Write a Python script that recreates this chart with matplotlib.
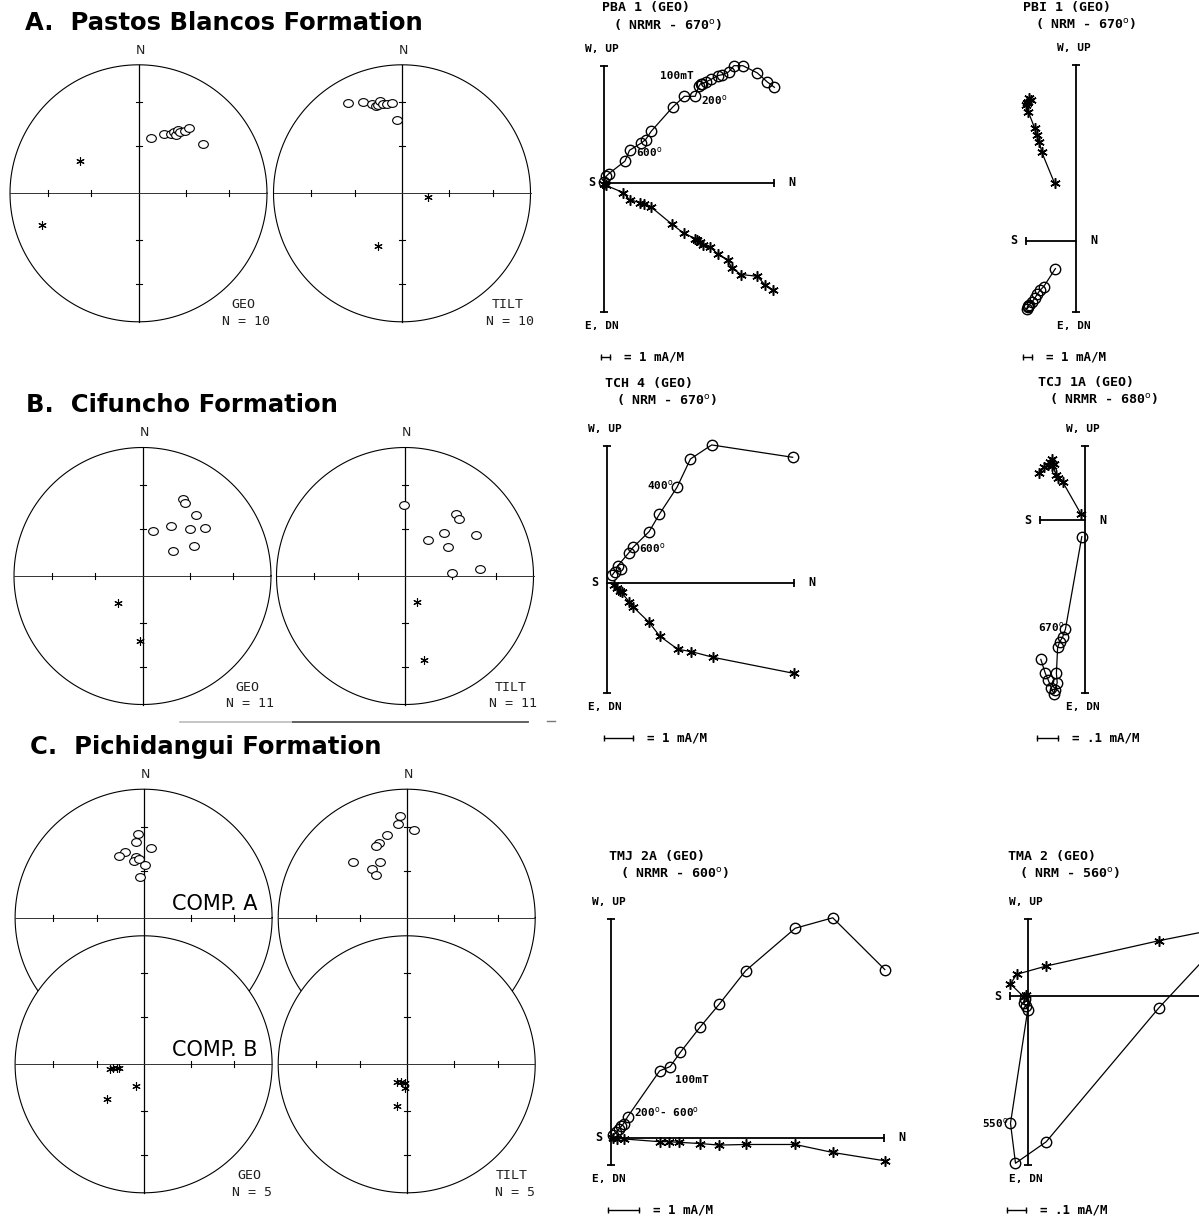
import numpy as np
import matplotlib
matplotlib.use("Agg")
import matplotlib.pyplot as plt
from matplotlib.lines import Line2D
from matplotlib.path import Path
from matplotlib.transforms import Affine2D

W, H = 1199, 1218

# ---------------- stereonet data (equal-area net coords, east / north, unit radius)
a_geo_open_e = [0.095, 0.198, 0.256, 0.276, 0.290, 0.306, 0.326, 0.359, 0.393, 0.504]
a_geo_open_n = [0.434, 0.461, 0.461, 0.476, 0.455, 0.494, 0.474, 0.487, 0.508, 0.380]
a_geo_star_e = [-0.456, -0.748]
a_geo_star_n = [0.250, -0.248]
a_tilt_open_e = [-0.417, -0.301, -0.236, -0.200, -0.185, -0.172, -0.150, -0.117, -0.075, -0.042]
a_tilt_open_n = [0.703, 0.708, 0.695, 0.682, 0.690, 0.716, 0.698, 0.695, 0.703, 0.573]
a_tilt_star_e = [0.203, -0.189]
a_tilt_star_n = [-0.031, -0.409]

b_geo_open_e = [0.315, 0.328, 0.420, 0.223, 0.084, 0.370, 0.490, 0.239, 0.403]
b_geo_open_n = [0.602, 0.568, 0.478, 0.388, 0.351, 0.364, 0.370, 0.196, 0.233]
b_geo_star_e = [-0.187, -0.019]
b_geo_star_n = [-0.207, -0.509]
b_tilt_open_e = [-0.009, 0.400, 0.422, 0.305, 0.177, 0.333, 0.556, 0.367, 0.584]
b_tilt_open_n = [0.550, 0.481, 0.447, 0.336, 0.284, 0.222, 0.318, 0.026, 0.052]
b_tilt_star_e = [0.094, 0.144]
b_tilt_star_n = [-0.199, -0.651]

ca_geo_open_e = [-0.047, -0.056, 0.056, -0.145, -0.195, -0.061, -0.075, -0.034, 0.014, -0.028]
ca_geo_open_n = [0.654, 0.586, 0.542, 0.508, 0.484, 0.472, 0.443, 0.456, 0.412, 0.320]
ca_tilt_open_e = [-0.050, -0.070, 0.056, -0.156, -0.217, -0.236, -0.418, -0.209, -0.273, -0.236]
ca_tilt_open_n = [0.795, 0.730, 0.685, 0.646, 0.581, 0.555, 0.430, 0.430, 0.378, 0.334]
cb_geo_star_e = [-0.264, -0.236, -0.209, -0.189, -0.061, -0.287]
cb_geo_star_n = [-0.039, -0.026, -0.026, -0.031, -0.170, -0.273]
cb_tilt_star_e = [-0.078, -0.042, -0.014, -0.014, -0.078]
cb_tilt_star_n = [-0.141, -0.136, -0.144, -0.188, -0.326]

site_counts = {"A": 10, "B": 11, "C": 5}

# ---------------- orthogonal plots (mA/m): vertical proj (N, Up), horizontal proj (N, W)
pba1_vert_n = [0.0, 0.2, 0.5, 2.3, 2.8, 4.1, 4.6, 5.2, 7.6, 8.9, 10.1, 10.5, 10.7, 10.9,
               11.3, 11.9, 12.6, 13.1, 13.8, 14.4, 15.4, 17.0, 18.1, 18.9]
pba1_vert_up = [0.1, 0.7, 1.0, 2.4, 3.6, 4.4, 4.8, 5.7, 8.4, 9.6, 9.6, 10.7, 11.0, 11.0,
                11.2, 11.5, 11.9, 12.0, 12.3, 13.0, 13.0, 12.2, 11.2, 10.6]
pba1_hor_n = [0.0, 0.2, 2.1, 2.8, 4.0, 4.4, 5.2, 7.5, 8.8, 10.1, 10.3, 10.6, 11.0, 11.7,
              12.6, 13.7, 14.2, 15.2, 17.0, 17.9, 18.7]
pba1_hor_w = [-0.1, -0.3, -1.1, -1.9, -2.2, -2.4, -2.7, -4.6, -5.6, -6.2, -6.4, -6.6, -6.9,
              -7.1, -7.9, -8.6, -9.5, -10.2, -10.4, -11.4, -11.9]

pbi1_hor_n = [-2.4, -3.8, -4.1, -4.4, -4.6, -5.3, -5.6, -5.4, -5.2, -5.0, -5.5]
pbi1_hor_w = [6.4, 9.8, 11.0, 11.7, 12.5, 14.3, 15.1, 15.4, 15.8, 15.6, 15.3]
pbi1_vert_n = [-2.3, -3.6, -4.0, -4.3, -4.6, -4.9, -5.2, -5.4, -5.5, -5.3]
pbi1_vert_up = [-3.1, -5.1, -5.5, -5.9, -6.4, -6.8, -7.1, -7.3, -7.6, -7.4]

tch4_vert_n = [0.18, 0.26, 0.47, 0.36, 0.76, 0.90, 1.46, 1.82, 2.43, 2.90, 3.64, 6.46]
tch4_vert_up = [0.27, 0.38, 0.48, 0.58, 1.05, 1.23, 1.78, 2.39, 3.32, 4.31, 4.80, 4.37]
tch4_hor_n = [0.22, 0.33, 0.43, 0.50, 0.76, 0.90, 1.46, 1.83, 2.46, 2.93, 3.69, 6.51]
tch4_hor_w = [-0.08, -0.20, -0.28, -0.34, -0.66, -0.84, -1.38, -1.86, -2.32, -2.40, -2.60, -3.16]

tcj1a_hor_n = [-0.020, -0.110, -0.130, -0.140, -0.160, -0.170, -0.160, -0.150, -0.180, -0.200, -0.224]
tcj1a_hor_w = [0.029, 0.187, 0.203, 0.220, 0.263, 0.284, 0.296, 0.273, 0.268, 0.257, 0.228]
tcj1a_vert_n = [-0.016, -0.096, -0.110, -0.124, -0.134, -0.140, -0.136, -0.148, -0.152,
                -0.164, -0.180, -0.194, -0.216]
tcj1a_vert_up = [-0.081, -0.533, -0.572, -0.594, -0.621, -0.748, -0.794, -0.829, -0.849,
                 -0.821, -0.780, -0.748, -0.680]

tmj2a_vert_n = [0.07, 0.16, 0.24, 0.33, 0.40, 0.53, 1.57, 1.91, 2.24, 2.89, 3.50, 4.36, 5.97, 7.19, 8.88]
tmj2a_vert_up = [0.09, 0.17, 0.27, 0.38, 0.46, 0.68, 2.17, 2.31, 2.77, 3.60, 4.33, 5.42, 6.80, 7.14, 5.46]
tmj2a_hor_n = [0.07, 0.20, 0.40, 1.57, 1.86, 2.20, 2.89, 3.50, 4.36, 5.97, 7.19, 8.88]
tmj2a_hor_w = [-0.02, -0.03, -0.04, -0.13, -0.13, -0.15, -0.19, -0.24, -0.22, -0.22, -0.48, -0.75]

tma2_hor_n = [-0.011, -0.022, -0.093, -0.060, 0.100, 0.710, 1.081]
tma2_hor_w = [0.005, -0.004, 0.065, 0.117, 0.162, 0.299, 0.373]
tma2_vert_n = [-0.016, -0.022, -0.011, 0.0, -0.093, -0.066, 0.100, 0.710, 1.081]
tma2_vert_up = [-0.018, -0.036, -0.054, -0.076, -0.688, -0.904, -0.788, -0.063, 0.335]

DEG = r"$^{\rm o}$"

plt.rcParams["font.family"] = ["DejaVu Sans"]
fig = plt.figure(figsize=(W / 100, H / 100), dpi=100)
fig.patch.set_facecolor("white")

OVAL = Path.unit_circle().transformed(Affine2D().scale(1.25, 1.0))
STAR = (6, 2, 0)
NET_R = 128.5
TICK_INC = [30, 60]
MONO = "DejaVu Sans Mono"


def px_rect(left, top, w, h):
    return [left / W, 1 - (top + h) / H, w / W, h / H]


def stereonet(cx, cy, open_e, open_n, star_e, star_n, frame=None, count=None,
              north=True, comp=None, opaque=False, z=1):
    pad = 1.15
    ax = fig.add_axes(px_rect(cx - NET_R * pad, cy - NET_R * pad,
                              2 * NET_R * pad, 2 * NET_R * pad), zorder=z)
    ax.set_xlim(-pad, pad)
    ax.set_ylim(-pad, pad)
    ax.axis("off")
    t = np.linspace(0, 2 * np.pi, 361)
    if opaque:
        ax.fill(np.cos(t), np.sin(t), facecolor="white", edgecolor="black", lw=0.8)
    else:
        ax.plot(np.cos(t), np.sin(t), color="black", lw=0.8)
    ax.plot([0, 0], [-1, 1], color="black", lw=0.9)
    ax.plot([-1, 1], [0, 0], color="#333333", lw=0.7)
    tl = 3.0 / NET_R
    for inc in TICK_INC:
        r = np.sqrt(2) * np.sin(np.radians(90 - inc) / 2)
        for s in (-1, 1):
            ax.plot([s * r] * 2, [-tl, tl], color="black", lw=0.8)
            ax.plot([-tl, tl], [s * r] * 2, color="black", lw=0.8)
    if open_e:
        ax.plot(open_e, open_n, ls="none", marker=OVAL, ms=7, mfc="white",
                mec="black", mew=0.8)
    if star_e:
        ax.plot(star_e, star_n, ls="none", marker=STAR, ms=6, color="black", mew=0.8)
    if north:
        ax.text(0.012, 1.115, "N", ha="center", va="center", fontsize=9, color="#222222")
    if frame:
        ax.text(0.82, -0.865, frame, ha="center", va="center", family=MONO,
                fontsize=9.5, color="#222222")
        ax.text(0.84, -0.995, f"N = {count}", ha="center", va="center", family=MONO,
                fontsize=9.5, color="#222222")
    if comp:
        ax.text(0.22, 0.03, comp, ha="left", va="bottom", fontsize=15)
    return ax


def zijderveld(ox, oy, ppu, s_end, n_end, down, up, vert_n, vert_up, hor_n, hor_w,
               name, steps, bar, bar_label, notes, caps, show_n=True):
    L, R, U, D = 110, 330, 300, 260
    k = 1.0 / ppu
    ax = fig.add_axes(px_rect(ox - L, oy - U, L + R, U + D))
    ax.set_xlim(-L * k, R * k)
    ax.set_ylim(-D * k, U * k)
    ax.axis("off")
    ax.plot([0, 0], [down, up], color="black", lw=1.3)
    ax.plot([0, 0], [down, up], ls="none", marker="_", ms=6, mew=1.3, color="black")
    ax.plot([s_end, n_end], [0, 0], color="black", lw=1.3, clip_on=False)
    ax.plot(caps, [0] * len(caps), ls="none", marker="|", ms=6, mew=1.3, color="black")
    ax.plot(vert_n, vert_up, color="black", lw=0.9, marker="o", ms=7.5, mfc="none",
            mec="black", mew=1.0, clip_on=False)
    ax.plot(hor_n, hor_w, color="black", lw=0.9, marker=STAR, ms=7.5, mew=1.1,
            clip_on=False)

    zf = dict(family=MONO, fontweight="bold", color="black")
    xl = min(s_end, 0)
    ax.text(-2 * k, up + 17 * k, "W, UP", ha="center", va="center", fontsize=8, **zf)
    ax.text(-2 * k, down - 14 * k, "E, DN", ha="center", va="center", fontsize=8, **zf)
    ax.text(xl - 12 * k, 0, "S", ha="center", va="center", fontsize=8.5, **zf)
    if show_n:
        ax.text(max(n_end, 0) + 18 * k, 0, "N", ha="center", va="center", fontsize=8.5, **zf)
    # keep the two heading lines inside the canvas
    head = up * ppu + 63
    head = min(head, oy - 8)
    ax.text(xl - 2.5 * k, head * k, name, ha="left", va="center", fontsize=9.5, **zf)
    ax.text(xl + 9 * k, (head - 16) * k, steps, ha="left", va="center", fontsize=9.5, **zf)

    yb = down - 45 * k
    x0 = xl - 3 * k
    ax.plot([x0, x0 + bar], [yb, yb], color="black", lw=1.0)
    ax.plot([x0, x0 + bar], [yb, yb], ls="none", marker="|", ms=4, mew=1.0, color="black")
    ax.text(x0 + bar + 14 * k, yb, bar_label, ha="left", va="center", fontsize=9, **zf)
    for s, dx, dy in notes:
        ax.text(dx * k, dy * k, s, ha="left", va="center", fontsize=8, **zf)
    return ax


# ---------------- section titles
title_kw = dict(fontsize=17.5, fontweight="bold", family="DejaVu Sans", va="baseline")
fig.text(25 / W, 1 - 29.5 / H, "A.  Pastos Blancos Formation", **title_kw)
fig.text(26 / W, 1 - 412 / H, "B.  Cifuncho Formation", **title_kw)
fig.text(30 / W, 1 - 754 / H, "C.  Pichidangui Formation", **title_kw)

# ---------------- stereonets
stereonet(138.5, 193.3, a_geo_open_e, a_geo_open_n, a_geo_star_e, a_geo_star_n,
          "GEO", site_counts["A"])
stereonet(402.0, 193.3, a_tilt_open_e, a_tilt_open_n, a_tilt_star_e, a_tilt_star_n,
          "TILT", site_counts["A"])
stereonet(142.5, 576.0, b_geo_open_e, b_geo_open_n, b_geo_star_e, b_geo_star_n,
          "GEO", site_counts["B"])
stereonet(405.0, 576.0, b_tilt_open_e, b_tilt_open_n, b_tilt_star_e, b_tilt_star_n,
          "TILT", site_counts["B"])
stereonet(143.6, 917.7, ca_geo_open_e, ca_geo_open_n, [], [], comp="COMP. A", z=1)
stereonet(406.7, 917.7, ca_tilt_open_e, ca_tilt_open_n, [], [], z=1)
stereonet(143.6, 1064.3, [], [], cb_geo_star_e, cb_geo_star_n, "GEO", site_counts["C"],
          north=False, comp="COMP. B", opaque=True, z=2)
stereonet(406.7, 1064.3, [], [], cb_tilt_star_e, cb_tilt_star_n, "TILT", site_counts["C"],
          north=False, opaque=True, z=2)

# separator under section B
fig.add_artist(Line2D([180 / W, 293 / W], [1 - 721.7 / H] * 2, color="#bbbbbb", lw=1.2))
fig.add_artist(Line2D([293 / W, 528 / W], [1 - 721.7 / H] * 2, color="#555555", lw=1.3))
fig.add_artist(Line2D([547 / W, 555 / W], [1 - 720.7 / H] * 2, color="#777777", lw=1.0))

# ---------------- orthogonal demagnetization diagrams
zijderveld(604.3, 182.7, 9.0, 0.0, 18.9, -14.4, 13.0, pba1_vert_n, pba1_vert_up,
           pba1_hor_n, pba1_hor_w, "PBA 1 (GEO)", "( NRMR - 670" + DEG + ")",
           1.0, "= 1 mA/M",
           [("100mT", 56, 106.7), ("200" + DEG, 97, 82.7), ("600" + DEG, 32, 31)],
           caps=[18.9])
zijderveld(1076.1, 240.7, 9.0, -5.6, 0.0, -7.9, 19.5, pbi1_vert_n, pbi1_vert_up,
           pbi1_hor_n, pbi1_hor_w, "PBI 1 (GEO)", "( NRM - 670" + DEG + ")",
           1.0, "= 1 mA/M", [], caps=[-5.6])
zijderveld(607.2, 582.7, 28.7, 0.0, 6.5, -3.86, 4.76, tch4_vert_n, tch4_vert_up,
           tch4_hor_n, tch4_hor_w, "TCH 4 (GEO)", "( NRM - 670" + DEG + ")",
           1.0, "= 1 mA/M",
           [("400" + DEG, 40, 97.7), ("600" + DEG, 32, 34.7)], caps=[6.5])
zijderveld(1085.1, 520.0, 205.0, -0.22, 0.0, -0.845, 0.361, tcj1a_vert_n, tcj1a_vert_up,
           tcj1a_hor_n, tcj1a_hor_w, "TCJ 1A (GEO)", "( NRMR - 680" + DEG + ")",
           0.1, "= .1 mA/M", [("670" + DEG, -47, -107)], caps=[-0.22])
zijderveld(611.3, 1137.7, 30.8, 0.0, 8.86, -0.89, 7.09, tmj2a_vert_n, tmj2a_vert_up,
           tmj2a_hor_n, tmj2a_hor_w, "TMJ 2A (GEO)", "( NRMR - 600" + DEG + ")",
           1.0, "= 1 mA/M",
           [("100mT", 64, 57.7), ("200" + DEG + "- 600" + DEG, 23, 25.7)], caps=[8.86])
zijderveld(1027.7, 996.0, 185.0, -0.095, 1.3, -0.914, 0.415, tma2_vert_n, tma2_vert_up,
           tma2_hor_n, tma2_hor_w, "TMA 2 (GEO)", "( NRM - 560" + DEG + ")",
           0.1, "= .1 mA/M", [("550" + DEG, -45.7, -127)], caps=[-0.095], show_n=False)

fig.savefig("out.png", dpi=100, facecolor="white")
